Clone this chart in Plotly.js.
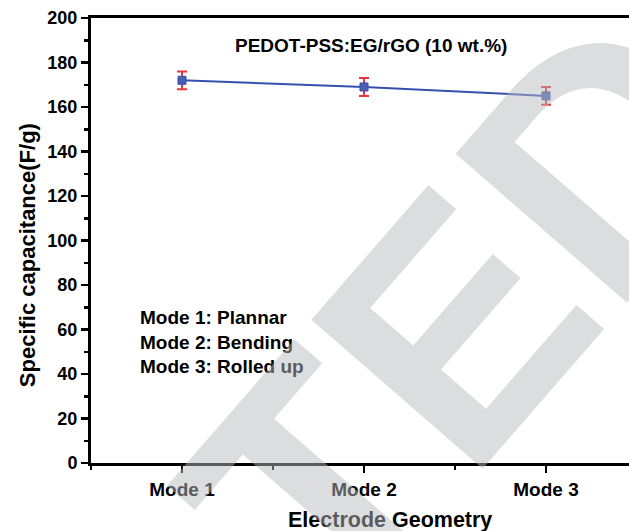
<!DOCTYPE html>
<html><head><meta charset="utf-8">
<script src="https://cdn.plot.ly/plotly-3.0.1.min.js"></script>
<style>html,body{margin:0;padding:0;background:#fff;}#chart{width:629px;height:531px;}</style>
</head><body><div id="chart"></div>
<script>
const categories = ["Mode 1", "Mode 2", "Mode 3"];
const capacitance = [172, 169, 165];
const errorValues = [4, 4, 4];
const yTickValues = [0, 20, 40, 60, 80, 100, 120, 140, 160, 180, 200];
const legendLines = ["Mode 1: Plannar", "Mode 2: Bending", "Mode 3: Rolled up"];
const chartTitle = "PEDOT-PSS:EG/rGO (10 wt.%)";
const xTitle = "Electrode Geometry";
const yTitle = "Specific capacitance(F/g)";
const watermark = "TED";

const F = "Liberation Sans, Arial, sans-serif";
const xIdx = categories.map((c, i) => i);

const trace = {
  x: xIdx, y: capacitance, type: 'scatter', mode: 'lines+markers',
  line: {color: '#3550ae', width: 2},
  marker: {symbol: 'square', size: 8, color: '#4a5eb2', line: {color: '#3550ae', width: 1}},
  error_y: {type: 'data', array: errorValues, visible: true, color: '#e8343a', thickness: 2, width: 5},
  showlegend: false
};

const annotations = [
  {text: '<b>' + chartTitle + '</b>', xref: 'paper', yref: 'paper', x: 0.521, y: 0.939, xanchor: 'center', yanchor: 'middle', showarrow: false, font: {family: F, size: 19, color: '#000'}},
  {text: '<b>' + legendLines.join('<br>') + '</b>', xref: 'paper', yref: 'paper', x: 0.0874, y: 0.272, xanchor: 'left', yanchor: 'middle', showarrow: false, align: 'left', font: {family: F, size: 19, color: '#000'}},
  {text: '<b>' + yTitle + '</b>', xref: 'paper', yref: 'paper', x: -0.119, y: 0.467, xanchor: 'center', yanchor: 'middle', showarrow: false, textangle: -90, font: {family: F, size: 22, color: '#000'}},
  {text: '<b>' + xTitle + '</b>', xref: 'paper', yref: 'paper', x: 0.5558, y: -0.128, xanchor: 'center', yanchor: 'middle', showarrow: false, font: {family: F, size: 21.5, color: '#000'}},
  {text: '<b>' + watermark + '</b>', xref: 'paper', yref: 'paper', x: 0.6968, y: 0.3361, xanchor: 'center', yanchor: 'middle', showarrow: false, textangle: -49, font: {family: F, size: 330, color: 'rgba(184,185,190,0.49)'}}
];

const layout = {
  width: 629, height: 531,
  margin: {l: 91, r: 0, t: 18, b: 68},
  paper_bgcolor: '#fff', plot_bgcolor: '#fff',
  font: {family: F, color: '#000'},
  xaxis: {
    range: [-0.5, 2.456], tickvals: xIdx, ticktext: categories.map(c => '<b>' + c + '</b>'),
    showgrid: false, zeroline: false, showline: true, linecolor: '#000', linewidth: 3, mirror: true,
    ticks: 'outside', ticklen: 7, tickwidth: 2.5, tickcolor: '#000',
    minor: {dtick: 0.5, tick0: 0.5, ticks: 'outside', ticklen: 4, tickwidth: 2.5, tickcolor: '#000'},
    tickfont: {family: F, size: 19, color: '#000'}
  },
  yaxis: {
    range: [0, 200], tickvals: yTickValues, ticktext: yTickValues.map(v => '<b>' + v + '</b>'),
    showgrid: false, zeroline: false, showline: true, linecolor: '#000', linewidth: 3,
    ticks: 'outside', ticklen: 7, tickwidth: 2.5, tickcolor: '#000',
    minor: {dtick: 10, ticks: 'outside', ticklen: 4, tickwidth: 2.5, tickcolor: '#000'},
    tickfont: {family: F, size: 18, color: '#000'}
  },
  annotations: annotations
};

Plotly.newPlot('chart', [trace], layout, {displayModeBar: false, staticPlot: true});
</script></body></html>
